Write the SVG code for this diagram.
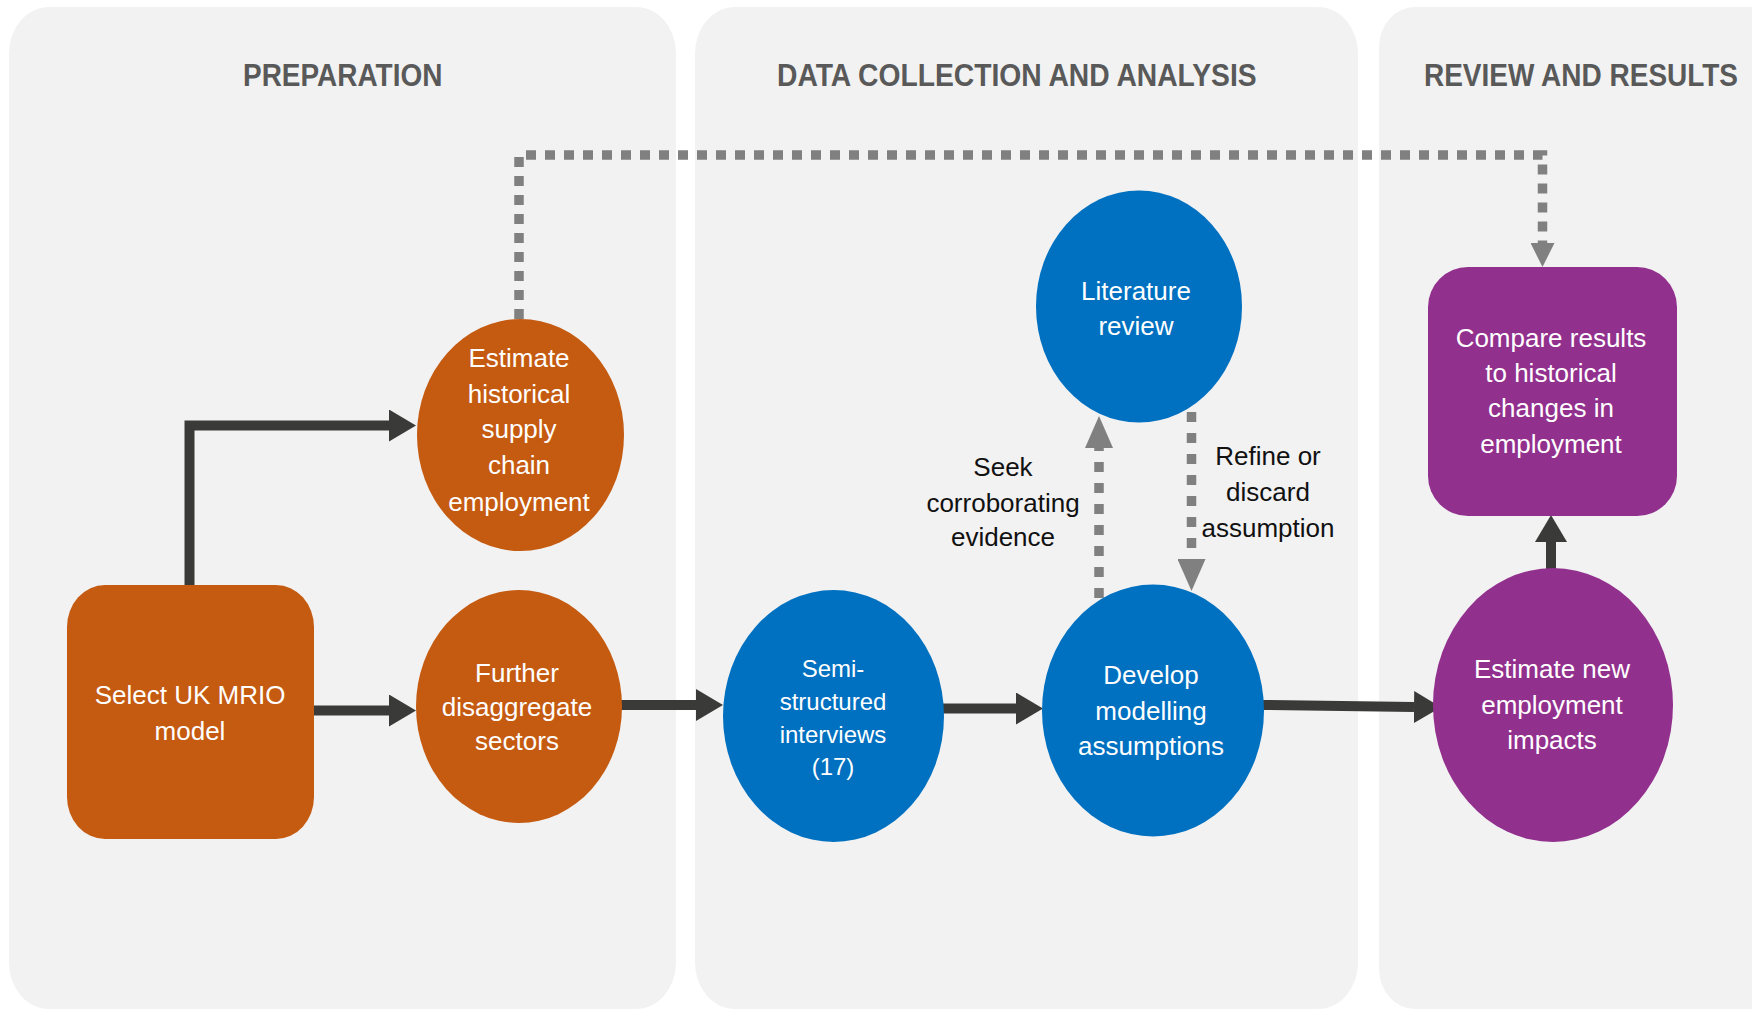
<svg xmlns="http://www.w3.org/2000/svg" width="1752" height="1010" viewBox="0 0 1752 1010">
  <style>
    .panel { fill: #f2f2f2; }
    .title { font-family: "Liberation Sans", Arial, sans-serif; font-weight: bold; font-size: 32px; fill: #595959; }
    .nt { font-family: "Liberation Sans", Arial, sans-serif; font-size: 26px; fill: #ffffff; text-anchor: middle; }
    .nts { font-family: "Liberation Sans", Arial, sans-serif; font-size: 24px; fill: #ffffff; text-anchor: middle; }
    .lbl { font-family: "Liberation Sans", Arial, sans-serif; font-size: 26px; fill: #111111; text-anchor: middle; }
    .orange { fill: #c55a11; }
    .blue { fill: #0070c0; }
    .purple { fill: #92308e; }
    .solid { fill: none; stroke: #3a3a38; stroke-width: 10; }
    .dotted { fill: none; stroke: #808080; stroke-width: 9.5; }
  </style>
  <defs>
    <marker id="ahDark" markerUnits="userSpaceOnUse" viewBox="0 0 27 32" markerWidth="27" markerHeight="32" refX="0" refY="16" orient="auto">
      <path d="M0,0 L27,16 L0,32 Z" fill="#3a3a38"/>
    </marker>
    <marker id="ahGrey" markerUnits="userSpaceOnUse" viewBox="0 0 32 28" markerWidth="32" markerHeight="28" refX="0" refY="14" orient="auto">
      <path d="M0,0 L32,14 L0,28 Z" fill="#808080"/>
    </marker>
    <marker id="ahGreySmall" markerUnits="userSpaceOnUse" viewBox="0 0 24 24" markerWidth="24" markerHeight="24" refX="0" refY="12" orient="auto">
      <path d="M0,0 L24,12 L0,24 Z" fill="#808080"/>
    </marker>
  </defs>

  <rect width="1752" height="1010" fill="#ffffff"/>

  <g id="panels">
    <rect class="panel" x="9" y="7" width="667" height="1002" rx="40" ry="46"/>
    <rect class="panel" x="695" y="7" width="663" height="1002" rx="40" ry="46"/>
    <path class="panel" d="M1752,7 H1415 A36,40 0 0 0 1379,47 V969 A36,40 0 0 0 1415,1009 H1752 Z"/>
    <text class="title" transform="translate(243,86) scale(0.874,1)">PREPARATION</text>
    <text class="title" transform="translate(777,86) scale(0.883,1)">DATA COLLECTION AND ANALYSIS</text>
    <text class="title" transform="translate(1424,86) scale(0.875,1)">REVIEW AND RESULTS</text>
  </g>

  <g id="connectors">
    <path class="solid" d="M189.5,585 V425.5 H389" marker-end="url(#ahDark)"/>
    <path class="solid" d="M314,710.5 H389" marker-end="url(#ahDark)"/>
    <path class="solid" d="M620,705 H696" marker-end="url(#ahDark)"/>
    <path class="solid" d="M942,708.5 H1016" marker-end="url(#ahDark)"/>
    <path class="solid" d="M1263,705 L1414,707" marker-end="url(#ahDark)"/>
    <path class="solid" d="M1551,570 V542" marker-end="url(#ahDark)"/>
    <path class="dotted" d="M519,319 V155 H1542.5 V243" stroke-dasharray="10 9" marker-end="url(#ahGreySmall)"/>
    <path class="dotted" d="M1099,598 V448" stroke-dasharray="10 11" marker-end="url(#ahGrey)"/>
    <path class="dotted" d="M1191.5,412 V559" stroke-dasharray="10 11" marker-end="url(#ahGrey)"/>
    <text class="lbl" x="1003" y="476">Seek</text>
    <text class="lbl" x="1003" y="511.5">corroborating</text>
    <text class="lbl" x="1003" y="546">evidence</text>
    <text class="lbl" x="1268" y="464.5">Refine or</text>
    <text class="lbl" x="1268" y="501">discard</text>
    <text class="lbl" x="1268" y="536.5">assumption</text>
  </g>

  <g id="node-select">
    <rect class="orange" x="67" y="585" width="247" height="254" rx="38" ry="42"/>
    <text class="nt" x="190" y="704">Select UK MRIO</text>
    <text class="nt" x="190" y="740">model</text>
  </g>

  <g id="node-estimate-historical">
    <ellipse class="orange" cx="520.5" cy="435" rx="103.5" ry="116"/>
    <text class="nt" x="519" y="366.5">Estimate</text>
    <text class="nt" x="519" y="402.5">historical</text>
    <text class="nt" x="519" y="438">supply</text>
    <text class="nt" x="519" y="474">chain</text>
    <text class="nt" x="519" y="510.5">employment</text>
  </g>

  <g id="node-further">
    <ellipse class="orange" cx="519" cy="706.5" rx="103" ry="116.5"/>
    <text class="nt" x="517" y="682">Further</text>
    <text class="nt" x="517" y="716">disaggregate</text>
    <text class="nt" x="517" y="750">sectors</text>
  </g>

  <g id="node-interviews">
    <ellipse class="blue" cx="833.5" cy="716" rx="110.5" ry="126"/>
    <text class="nts" x="833" y="677">Semi-</text>
    <text class="nts" x="833" y="710">structured</text>
    <text class="nts" x="833" y="743">interviews</text>
    <text class="nts" x="833" y="775">(17)</text>
  </g>

  <g id="node-literature">
    <ellipse class="blue" cx="1139" cy="306.5" rx="103" ry="116"/>
    <text class="nt" x="1136" y="300">Literature</text>
    <text class="nt" x="1136" y="335">review</text>
  </g>

  <g id="node-develop">
    <ellipse class="blue" cx="1153" cy="710.5" rx="111" ry="126"/>
    <text class="nt" x="1151" y="684">Develop</text>
    <text class="nt" x="1151" y="719.5">modelling</text>
    <text class="nt" x="1151" y="755">assumptions</text>
  </g>

  <g id="node-estimate-new">
    <ellipse class="purple" cx="1553" cy="705" rx="120" ry="137"/>
    <text class="nt" x="1552" y="678">Estimate new</text>
    <text class="nt" x="1552" y="714">employment</text>
    <text class="nt" x="1552" y="749">impacts</text>
  </g>

  <g id="node-compare">
    <rect class="purple" x="1428" y="267" width="249" height="249" rx="40" ry="40"/>
    <text class="nt" x="1551" y="347">Compare results</text>
    <text class="nt" x="1551" y="382">to historical</text>
    <text class="nt" x="1551" y="417">changes in</text>
    <text class="nt" x="1551" y="453">employment</text>
  </g>
</svg>
